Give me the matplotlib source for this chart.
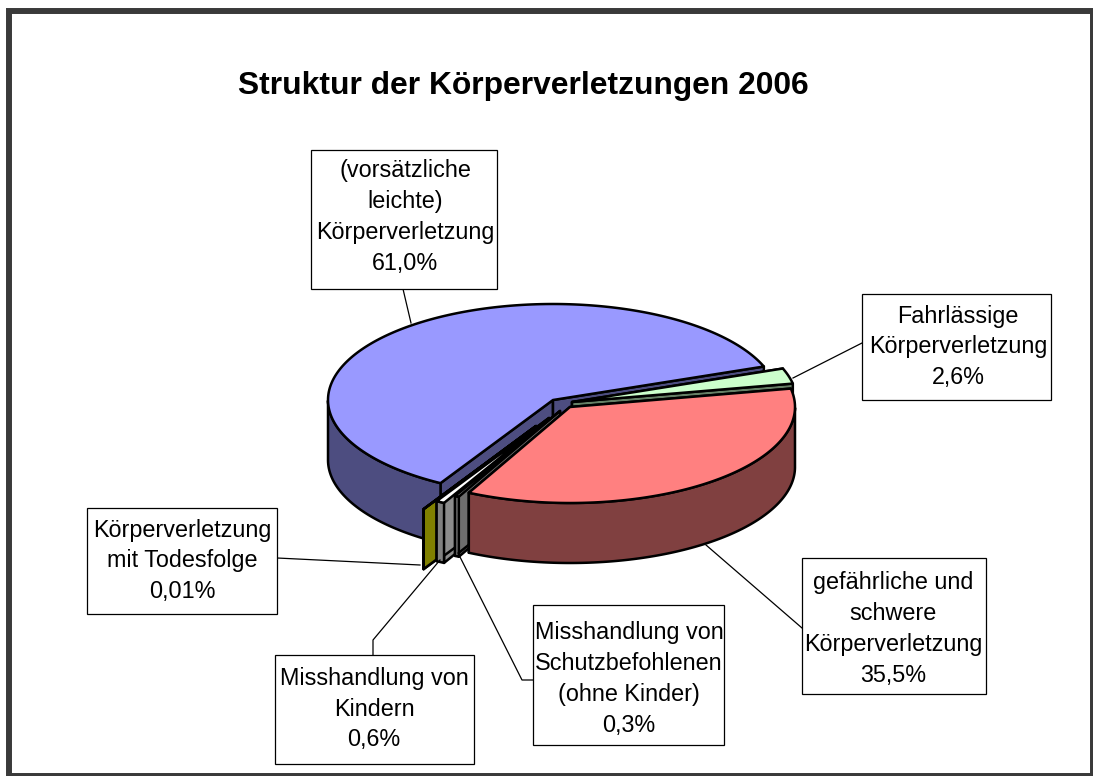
#!/usr/bin/env python3

import numpy as np
import matplotlib
matplotlib.use("Agg")
import matplotlib.pyplot as plt
from matplotlib.patches import Polygon, Rectangle

title = "Struktur der Körperverletzungen 2006"
names = [
    "(vorsätzliche\nleichte)\nKörperverletzung",
    "Fahrlässige\nKörperverletzung",
    "gefährliche und\nschwere\nKörperverletzung",
    "Misshandlung von\nSchutzbefohlenen\n(ohne Kinder)",
    "Misshandlung von\nKindern",
    "Körperverletzung\nmit Todesfolge",
]
values = [61.0, 2.6, 35.5, 0.3, 0.6, 0.01]
value_labels = ["61,0%", "2,6%", "35,5%", "0,3%", "0,6%", "0,01%"]

# pie geometry in pixels.
rx = 225
ry = 96
depth = 60
start_angle = 240
apex = [(553, 400), (572, 402), (570, 407), (560, 411), (549, 418), (536, 426)]
top_col = ["#9999ff", "#ccffcc", "#ff8080", "#969696", "#ffffff", "#808000"]
rim_col = ["#4d4d80", "#668066", "#804040", "#808080", "#808080", "#808000"]
wall_col = ["#4d4d80", "#668066", "#804040", "#6e6e6e", "#8c8c8c", "#808000"]

# label boxes (x0, y0, x1, y1), text centre and leader line.
boxes = [(311, 150, 497, 289), (862, 294, 1051, 400), (802, 558, 986, 694),
         (533, 605, 724, 745), (275, 655, 474, 764), (87, 508, 277, 614)]
text_pos = [(405, 217), (958, 347), (893, 629), (629, 679), (374, 709), (182, 561)]
leaders = [[(403, 289), (411, 323)],
           [(862, 343), (793, 378)],
           [(802, 628), (706, 545)],
           [(533, 680), (522, 680), (458, 553)],
           [(373, 655), (373, 640), (440, 560)],
           [(277, 558), (420, 565)]]

# point on the rim of one slice.
def rim_point(center, angle):
    t = np.deg2rad(angle)
    return center[0] + rx * np.cos(t), center[1] - ry * np.sin(t)

# draw one slice from its two angles, a1 > a2.
def draw_slice(ax, center, a1, a2, top, rim, wall):
    style = dict(edgecolor="black", linewidth=1.8, joinstyle="round")
    cx, cy = center
    # cut walls.
    for a in [a1, a2]:
        x, y = rim_point(center, a)
        ax.add_patch(Polygon([(cx, cy), (x, y), (x, y + depth), (cx, cy + depth)], facecolor=wall, **style))
    # outer side, only the front part shows.
    arc = np.linspace(a1, a2, 200)
    front = arc[np.sin(np.deg2rad(arc)) <= 0]
    if front.size > 1:
        px, py = rim_point(center, front)
        pts = list(zip(px, py)) + list(zip(px[::-1], py[::-1] + depth))
        ax.add_patch(Polygon(pts, facecolor=rim, **style))
    # top face.
    px, py = rim_point(center, arc)
    ax.add_patch(Polygon([(cx, cy)] + list(zip(px, py)), facecolor=top, **style))

fig = plt.figure(figsize=(10.93, 7.76), dpi=100, facecolor="white")
ax = fig.add_axes([0, 0, 1, 1])
ax.set_xlim(0, 1093)
ax.set_ylim(776, 0)
ax.axis("off")
plt.rcParams["font.family"] = ["Liberation Sans", "DejaVu Sans"]

# chart frame, runs off the right and bottom edge.
ax.add_patch(Rectangle((9, 11), 1084, 765, facecolor="none", edgecolor="#3a3a3a", linewidth=4.3))

# title.
ax.text(523, 86, title, ha="center", va="center", fontsize=22.9, fontweight="bold")

# slices, clockwise, painted so the front ones come last.
shares = np.array(values) / np.sum(values) * 360
ends = start_angle - np.cumsum(shares)
starts = ends + shares
for i in [0, 1, 5, 4, 3, 2]:
    draw_slice(ax, apex[i], starts[i], ends[i], top_col[i], rim_col[i], wall_col[i])

# labels.
for i, box in enumerate(boxes):
    x0, y0, x1, y1 = box
    line = np.array(leaders[i])
    ax.plot(line[:, 0], line[:, 1], color="black", linewidth=0.9, zorder=3)
    ax.add_patch(Rectangle((x0, y0), x1 - x0, y1 - y0, facecolor="white", edgecolor="black", linewidth=0.9, zorder=4))
    ax.text(text_pos[i][0], text_pos[i][1], names[i] + "\n" + value_labels[i], ha="center", va="center",
            fontsize=16.8, linespacing=1.44, zorder=5)

fig.savefig("out.png", dpi=100)
